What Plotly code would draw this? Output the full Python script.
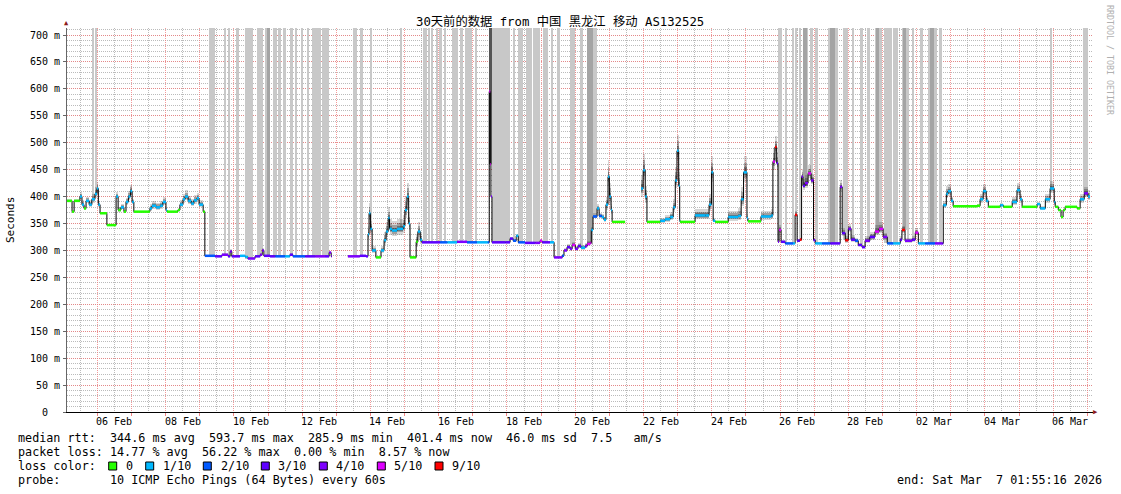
import numpy as np
import pandas as pd
import plotly.graph_objects as go

# ---------------- data ----------------
T0 = pd.Timestamp("2026-02-05 00:00:00")
X_START = "2026-02-05 02:41:00"
X_END = "2026-03-07 04:00:00"
Y_MAX = 713

# breakpoints: days since 2026-02-05 00:00, median rtt (ms), lost pings (of 10), smoke half-width (ms)
t_day = [0.11, 0.26, 0.32, 0.49, 0.55, 0.61, 0.67, 0.76, 0.84, 0.93, 0.99, 1.03, 1.08, 1.28, 1.55, 1.61,
         1.69, 1.78, 1.84, 1.91, 1.97, 2.02, 2.07, 2.54, 2.60, 2.72, 2.84, 2.92, 3.01, 3.04, 3.36, 3.42,
         3.51, 3.57, 3.66, 3.75, 3.83, 3.92, 3.98, 4.10, 4.15, 4.45, 4.65, 4.83, 4.89, 4.94, 5.18, 5.33,
         5.41, 5.62, 5.77, 5.83, 5.88, 6.06, 6.21, 6.50, 6.64, 6.73, 7.09, 7.38, 7.67, 7.79, 7.85, 7.87,
         8.34, 8.69, 8.87, 8.93, 8.96, 9.00, 9.05, 9.16, 9.31, 9.40, 9.46, 9.52, 9.56, 9.63, 9.78, 9.96,
         10.01, 10.07, 10.12, 10.16, 10.31, 10.34, 10.39, 10.46, 10.51, 11.04, 11.25, 11.54, 11.83, 12.12, 12.44, 12.48,
         12.51, 12.53, 12.56, 12.95, 13.09, 13.18, 13.27, 13.33, 13.53, 13.83, 13.97, 14.03, 14.26, 14.38, 14.62, 14.67,
         14.76, 14.85, 14.91, 15.00, 15.08, 15.17, 15.29, 15.35, 15.44, 15.47, 15.52, 15.64, 15.70, 15.78, 15.84, 15.90,
         15.96, 16.00, 16.05, 16.08, 16.46, 16.93, 16.99, 17.05, 17.10, 17.49, 17.63, 17.78, 17.87, 17.93, 17.98, 18.03,
         18.06, 18.07, 18.51, 18.81, 18.92, 18.99, 19.04, 19.10, 19.48, 19.77, 19.86, 19.93, 20.03, 20.06, 20.44, 20.74,
         20.79, 20.85, 20.90, 20.94, 20.97, 21.03, 21.15, 21.38, 21.44, 21.50, 21.58, 21.63, 21.67, 21.73, 21.82, 21.91,
         21.98, 22.03, 22.23, 22.47, 22.76, 22.82, 22.91, 23.00, 23.08, 23.20, 23.29, 23.40, 23.49, 23.63, 23.78, 23.90,
         24.02, 24.14, 24.31, 24.52, 24.57, 24.66, 24.87, 24.96, 25.05, 25.25, 25.54, 25.75, 25.78, 25.87, 25.92, 26.01,
         26.07, 26.77, 26.86, 26.95, 27.04, 27.10, 27.45, 27.54, 27.80, 27.94, 28.03, 28.09, 28.53, 28.62, 28.77, 28.91,
         29.03, 29.06, 29.15, 29.23, 29.29, 29.35, 29.70, 29.79, 29.91, 30.02]
rtt = [392, 372, 392, 400, 385, 378, 392, 385, 395, 405, 415, 385, 369, 347, 400, 375,
       380, 372, 390, 400, 410, 390, 372, 378, 383, 380, 383, 390, 375, 372, 375, 385,
       395, 400, 392, 387, 393, 397, 385, 372, 290, 289, 292, 289, 298, 289, 290, 288,
       285, 289, 292, 300, 290, 289, 289, 289, 292, 289, 289, 289, 289, 296, 289, None,
       289, 290, 289, 330, 369, 340, 300, 287, 300, 319, 335, 360, 340, 337, 340, 345,
       375, 400, 350, 287, 287, 316, 335, 320, 315, 315, 315, 316, 315, 315, 315, 595,
       460, 400, 315, 315, 322, 318, 327, 315, 314, 314, 318, 315, 315, 287, 290, 300,
       306, 303, 310, 303, 308, 305, 308, 312, 314, 338, 363, 378, 364, 362, 357, 385,
       437, 400, 375, 353, None, 415, 449, 400, 353, 355, 358, 362, 380, 430, 485, 420,
       356, 353, 365, 365, 385, 445, 355, 353, 362, 364, 395, 445, 360, 354, 363, 365,
       465, 492, 462, 316, 338, 316, 313, 313, 366, 318, 320, 437, 420, 425, 443, 430,
       319, 313, 313, 313, 418, 332, 319, 340, 320, 318, 310, 306, 318, 325, 335, 340,
       325, 313, 313, 320, 338, 318, 320, 333, 313, 313, 313, 313, 384, 405, 410, 392,
       382, 383, 395, 410, 392, 381, 384, 381, 390, 412, 395, 381, 386, 378, 395, 415,
       390, 381, 375, 362, 375, 381, 378, 395, 406, 400]
loss = [0, 0, 0, 1, 1, 0, 1, 1, 1, 1, 1, 1, 0, 0, 1, 0,
        1, 0, 1, 1, 1, 1, 0, 1, 1, 1, 1, 1, 1, 0, 0, 1,
        1, 1, 1, 1, 1, 1, 1, 0, 2, 3, 4, 3, 4, 3, 1, 1,
        4, 3, 4, 4, 3, 3, 2, 1, 3, 2, 3, 4, 3, 4, 4, 0,
        4, 3, 3, 1, 1, 1, 1, 0, 1, 1, 1, 1, 1, 1, 1, 1,
        1, 1, 1, 0, 0, 0, 1, 1, 3, 2, 1, 4, 2, 1, 2, 5,
        5, 4, 3, 3, 3, 2, 1, 2, 3, 4, 5, 3, 1, 4, 2, 4,
        3, 4, 5, 4, 3, 1, 4, 5, 5, 1, 2, 1, 2, 1, 1, 1,
        1, 1, 1, 0, 0, 1, 1, 1, 0, 1, 1, 1, 1, 1, 1, 1,
        1, 0, 1, 1, 1, 1, 1, 0, 1, 1, 1, 1, 1, 0, 1, 1,
        5, 9, 3, 4, 5, 3, 2, 1, 9, 3, 9, 4, 3, 4, 5, 4,
        3, 1, 2, 3, 4, 3, 9, 4, 3, 2, 3, 3, 4, 3, 5, 5,
        4, 2, 1, 3, 9, 4, 3, 5, 1, 2, 4, 3, 1, 1, 1, 1,
        0, 0, 1, 1, 1, 0, 1, 0, 1, 1, 1, 0, 1, 1, 1, 1,
        1, 0, 0, 0, 0, 0, 0, 1, 4, 1]
smoke = [3, 3, 4, 8, 8, 5, 8, 8, 10, 12, 12, 6, 2, 2, 8, 5,
         6, 4, 8, 10, 12, 6, 2, 8, 9, 9, 9, 9, 6, 2, 3, 8,
         10, 12, 10, 9, 10, 10, 8, 3, 2, 2, 3, 2, 4, 2, 2, 2,
         2, 2, 3, 4, 2, 2, 2, 2, 3, 2, 2, 2, 2, 3, 2, 0,
         2, 2, 2, 15, 20, 15, 8, 2, 8, 15, 18, 20, 18, 18, 18, 20,
         25, 25, 20, 3, 3, 15, 18, 12, 2, 2, 2, 2, 2, 2, 2, 0,
         0, 0, 2, 2, 3, 3, 4, 2, 2, 2, 3, 2, 2, 2, 3, 5,
         6, 6, 6, 6, 6, 6, 6, 6, 4, 6, 6, 8, 6, 6, 6, 15,
         30, 25, 12, 2, 0, 25, 30, 20, 2, 6, 8, 10, 15, 25, 30, 25,
         5, 2, 12, 12, 20, 30, 5, 2, 12, 14, 22, 30, 8, 2, 10, 12,
         25, 20, 20, 5, 10, 4, 2, 2, 8, 4, 4, 15, 12, 15, 15, 12,
         4, 2, 2, 2, 12, 10, 8, 10, 8, 6, 4, 4, 8, 10, 12, 12,
         8, 3, 2, 6, 8, 6, 6, 8, 2, 2, 2, 2, 8, 14, 14, 8,
         2, 3, 10, 14, 8, 2, 4, 2, 10, 14, 10, 2, 4, 4, 10, 14,
         10, 2, 2, 2, 2, 2, 3, 10, 12, 12]
t_last = 30.08

loss_bins = [0, 1, 2, 3, 4, 5, 9]
loss_labels = ["0", "1/10", "2/10", "3/10", "4/10", "5/10", "9/10"]
loss_colors = ["#26ff00", "#00b8ff", "#0059ff", "#5e00ff", "#7e00ff", "#dd00ff", "#ff0000"]

# full-height smoke columns (days since 2026-02-05)
col_light_start = [0.873, 0.960, 4.271, 4.710, 4.856, 5.091, 5.325, 5.677, 5.823, 5.911, 6.145, 6.292, 6.438,
                   6.673, 6.819, 6.995, 7.141, 7.288, 7.581, 8.489, 8.694, 9.016, 9.895, 10.539, 10.685,
                   10.802, 10.949, 11.037, 11.183, 11.388, 11.623, 11.769, 12.062, 12.560, 13.175, 13.322,
                   13.556, 13.761, 14.054, 14.318, 14.464, 14.845, 15.138, 15.518, 20.937, 21.172, 21.347,
                   21.465, 21.582, 21.787, 21.875, 22.021, 22.402, 22.841, 23.134, 23.339, 23.544, 23.778,
                   24.042, 24.306, 24.569, 24.745, 24.891, 25.097, 25.331, 25.683, 28.934, 29.871]
col_light_end = [0.902, 1.005, 4.447, 4.769, 4.886, 5.149, 5.559, 5.794, 5.852, 5.970, 6.263, 6.380, 6.526,
                 6.731, 6.848, 7.024, 7.200, 7.551, 7.786, 8.606, 8.782, 9.045, 9.924, 10.656, 10.744,
                 10.832, 10.978, 11.095, 11.212, 11.564, 11.711, 11.974, 12.121, 13.087, 13.234, 13.468,
                 13.732, 13.966, 14.200, 14.347, 14.552, 14.991, 15.226, 15.636, 21.054, 21.201, 21.406,
                 21.494, 21.611, 21.816, 21.963, 22.109, 22.695, 22.988, 23.163, 23.427, 23.632, 23.983,
                 24.276, 24.452, 24.716, 24.774, 24.921, 25.185, 25.595, 25.741, 28.963, 30.018]
col_dark_start = [5.970, 15.343, 21.670, 22.460, 23.800, 24.600, 25.400]
col_dark_end = [6.058, 15.518, 21.787, 22.610, 23.900, 24.680, 25.500]
col_black_start = [12.473]
col_black_end = [12.560]

# ---------------- helpers ----------------
DAY_MS = 86400000.0


def ts(d):
    return T0 + pd.Timedelta(days=float(d))


n = len(t_day)
t_next = t_day[1:] + [t_last]


def value_at(d):
    i = int(np.searchsorted(np.array(t_day), d, side="right")) - 1
    i = max(i, 0)
    while i < n and rtt[i] is None:
        i += 1
    return rtt[min(i, n - 1)]


fig = go.Figure()


def add_columns(starts, ends, color):
    xs, ys, bs, ws = [], [], [], []
    for a, b in zip(starts, ends):
        base = value_at((a + b) / 2)
        xs.append(ts((a + b) / 2))
        bs.append(base)
        ys.append(Y_MAX - base)
        ws.append((b - a) * DAY_MS)
    fig.add_trace(go.Bar(x=xs, y=ys, base=bs, width=ws, marker=dict(color=color, line=dict(width=0)),
                         showlegend=False, hoverinfo="skip"))


add_columns(col_light_start, col_light_end, "#c8c8c8")
add_columns(col_dark_start, col_dark_end, "#a4a4a4")
add_columns(col_black_start, col_black_end, "#555555")

# smoke around the median
for frac, color in [(1.0, "rgba(0,0,0,0.16)"), (0.6, "rgba(0,0,0,0.25)"), (0.3, "rgba(0,0,0,0.3)")]:
    xs, ys, bs, ws = [], [], [], []
    for i in range(n):
        if rtt[i] is None or smoke[i] <= 0:
            continue
        s = smoke[i] * frac
        xs.append(ts((t_day[i] + t_next[i]) / 2))
        bs.append(rtt[i] - s * 0.6)
        ys.append(s * 1.6)
        ws.append((t_next[i] - t_day[i]) * DAY_MS)
    fig.add_trace(go.Bar(x=xs, y=ys, base=bs, width=ws, marker=dict(color=color, line=dict(width=0)),
                         showlegend=False, hoverinfo="skip"))

# black median step line
lx, ly = [], []
for i in range(n):
    if rtt[i] is None:
        continue
    lx += [ts(t_day[i]), ts(t_next[i])]
    ly += [rtt[i], rtt[i]]
    if i + 1 < n and rtt[i + 1] is None:
        lx.append(None)
        ly.append(None)
fig.add_trace(go.Scatter(x=lx, y=ly, mode="lines", line=dict(color="#000000", width=1),
                         showlegend=False, hoverinfo="skip"))

# coloured median by loss
for b, c in zip(loss_bins, loss_colors):
    sx, sy = [], []
    for i in range(n):
        if rtt[i] is None or loss[i] != b:
            continue
        sx += [ts(t_day[i]), ts(t_next[i]), None]
        sy += [rtt[i], rtt[i], None]
    if sx:
        fig.add_trace(go.Scatter(x=sx, y=sy, mode="lines", line=dict(color=c, width=2.5),
                                 showlegend=False, hoverinfo="skip"))

# ---------------- layout ----------------
W, H = 1121, 494
L, R, T, B = 67, 28, 28, 82
PW, PH = W - L - R, H - T - B
MONO = "DejaVu Sans Mono"


def px(x):
    return (x - L) / PW


def py(y):
    return (H - B - y) / PH


y_ticks = list(range(0, 701, 50))
y_text = ["0\u00a0\u00a0"] + [f"{v} m" for v in y_ticks[1:]]

fig.update_layout(
    width=W, height=H, margin=dict(l=L, r=R, t=T, b=B),
    paper_bgcolor="white", plot_bgcolor="white",
    barmode="overlay", bargap=0,
    font=dict(family=MONO, size=10, color="black"),
    xaxis=dict(type="date", range=[X_START, X_END], tick0="2026-02-06", dtick=DAY_MS,
               showgrid=True, gridcolor="rgba(240,120,120,0.75)", griddash="1px,1px", gridwidth=1,
               minor=dict(dtick=DAY_MS / 2, tick0="2026-02-06", showgrid=True,
                          gridcolor="rgba(170,170,170,0.8)", griddash="1px,1px", gridwidth=1),
               showticklabels=False, ticks="outside", ticklen=3, tickcolor="rgba(240,120,120,0.9)",
               showline=True, linecolor="black", linewidth=1, zeroline=False, fixedrange=True),
    yaxis=dict(range=[0, Y_MAX], tickmode="array", tickvals=y_ticks, ticktext=y_text,
               showgrid=True, gridcolor="rgba(240,120,120,0.75)", griddash="1px,1px", gridwidth=1,
               minor=dict(dtick=10, showgrid=True, gridcolor="rgba(170,170,170,0.8)",
                          griddash="1px,1px", gridwidth=1),
               ticks="outside", ticklen=3, tickcolor="#666666", ticklabelstandoff=1,
               tickfont=dict(family=MONO, size=10),
               showline=True, linecolor="#666666", linewidth=1, zeroline=False, fixedrange=True),
    showlegend=False,
)

ann = []
# x tick labels centred on noon of every second day
for k in range(15):
    d = 1.5 + 2 * k
    lab = ts(d).strftime("%d %b")
    ann.append(dict(x=ts(d), y=py(421.5), xref="x", yref="paper", text=lab, showarrow=False,
                    font=dict(family=MONO, size=10), xanchor="center", yanchor="middle"))

ann.append(dict(x=px(560), y=py(21.5), xref="paper", yref="paper", xanchor="center", yanchor="middle",
                text="30天前的数据 from 中国 黑龙江 移动 AS132525", showarrow=False,
                font=dict(family="DejaVu Sans Mono, Noto Sans CJK SC", size=12.3)))
ann.append(dict(x=px(10), y=py(220), xref="paper", yref="paper", text="Seconds", textangle=-90,
                showarrow=False, font=dict(family=MONO, size=11), xanchor="center", yanchor="middle"))
ann.append(dict(x=px(1110), y=py(60), xref="paper", yref="paper", text="RRDTOOL / TOBI OETIKER",
                textangle=90, showarrow=False, font=dict(family=MONO, size=8.3, color="#b0b0b0"),
                xanchor="center", yanchor="middle"))
ann.append(dict(x=px(66.8), y=py(23), xref="paper", yref="paper", text="▲", showarrow=False,
                font=dict(size=7, color="#8b1a1a"), xanchor="center", yanchor="middle"))
ann.append(dict(x=px(1095), y=py(412), xref="paper", yref="paper", text="▶", showarrow=False,
                font=dict(size=7, color="#8b1a1a"), xanchor="center", yanchor="middle"))


def nb(s):
    return s.replace(" ", "\u00a0")


legend_lines = [
    (438.3, "median rtt:  344.6 ms avg  593.7 ms max  285.9 ms min  401.4 ms now  46.0 ms sd  7.5   am/s"),
    (452.0, "packet loss: 14.77 % avg  56.22 % max  0.00 % min  8.57 % now"),
    (466.0, "loss color:"),
    (480.0, "probe:       10 ICMP Echo Pings (64 Bytes) every 60s"),
]
for yy, s in legend_lines:
    ann.append(dict(x=px(16), y=py(yy), xref="paper", yref="paper", text=nb(s), showarrow=False,
                    font=dict(family=MONO, size=11.75), xanchor="left", yanchor="middle"))
ann.append(dict(x=px(1104), y=py(480), xref="paper", yref="paper", text=nb("end: Sat Mar  7 01:55:16 2026"),
                showarrow=False, font=dict(family=MONO, size=11.75), xanchor="right", yanchor="middle"))

box_x = [108.7, 145.7, 203.3, 261.3, 319.3, 377.3, 435.0]
lab_x = [124.0, 160.7, 218.7, 276.3, 334.3, 392.0, 450.0]
shapes = []
for bx, lx_, lab, col in zip(box_x, lab_x, loss_labels, loss_colors):
    shapes.append(dict(type="rect", xref="paper", yref="paper", x0=px(bx), x1=px(bx + 8),
                       y0=py(470), y1=py(462), fillcolor=col, line=dict(color="black", width=1)))
    ann.append(dict(x=px(lx_), y=py(466), xref="paper", yref="paper", text=lab, showarrow=False,
                    font=dict(family=MONO, size=11.75), xanchor="left", yanchor="middle"))

fig.update_layout(annotations=ann, shapes=shapes)
fig.write_html("out.html", config={"displayModeBar": False},
               post_script="document.body.style.margin='0';document.body.style.padding='0';")
